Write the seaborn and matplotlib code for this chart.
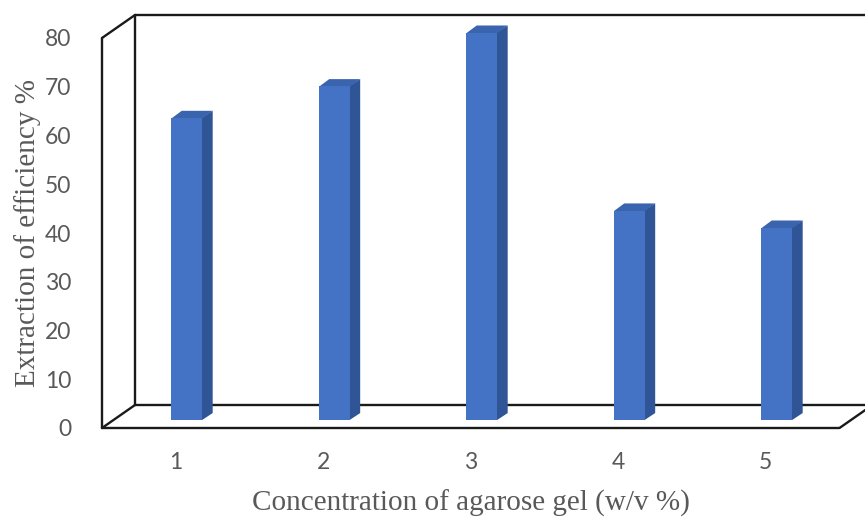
import matplotlib
matplotlib.use("Agg")
import matplotlib.pyplot as plt
from matplotlib.patches import Polygon
import seaborn as sns
import pandas as pd

# --- Data ---
concentration = ["1", "2", "3", "4", "5"]
efficiency = [62, 68.5, 79.5, 43, 39.5]
y_ticks = [0, 10, 20, 30, 40, 50, 60, 70, 80]

front_color = "#4472C4"
side_color = "#2F5597"
top_color = "#3A64AE"
text_gray = "#595959"

df = pd.DataFrame({"Concentration": concentration, "Efficiency": efficiency})

sns.set_style("white")
fig = plt.figure(figsize=(8.65, 5.18), dpi=100)
# front plane of the 3D box
ax = fig.add_axes([102 / 865, 1 - 428 / 518, 737.5 / 865, 390 / 518])

sns.barplot(data=df, x="Concentration", y="Efficiency", color=front_color,
            saturation=1, width=0.21, ax=ax, zorder=3)

ax.set_xlim(-0.5, 4.5)
ax.set_ylim(0, 80)
for s in ax.spines.values():
    s.set_visible(False)

# pixel -> data conversion for the 3D depth effect
ppx = ax.bbox.width / 5.0
ppy = ax.bbox.height / 80.0
ddx = 33 / ppx
ddy = 23 / ppy
f0, f1 = 0.34, 0.65
eps = 0.6 / ppx

# --- box walls ---
line_kw = dict(color="#1a1a1a", lw=1.7, clip_on=False, zorder=1)
x0, x1 = -0.5, 4.5
ax.plot([x0, x0], [0, 80], **line_kw)
ax.plot([x0, x1], [0, 0], **line_kw)
ax.plot([x0 + ddx, x0 + ddx], [ddy, 80 + ddy], **line_kw)
ax.plot([x0 + ddx, x1 + ddx], [80 + ddy, 80 + ddy], **line_kw)
ax.plot([x0 + ddx, x1 + ddx], [ddy, ddy], **line_kw)
ax.plot([x1 + ddx, x1 + ddx], [ddy, 80 + ddy], **line_kw)
ax.plot([x0, x0 + ddx], [0, ddy], **line_kw)
ax.plot([x0, x0 + ddx], [80, 80 + ddy], **line_kw)
ax.plot([x1, x1 + ddx], [0, ddy], **line_kw)

# --- shift bars into the middle of the depth and add side / top faces ---
sx, sy = f0 * ddx, f0 * ddy
bx, by = (f1 - f0) * ddx, (f1 - f0) * ddy
for p in list(ax.patches):
    p.set_x(p.get_x() + sx)
    p.set_y(sy)
    p.set_edgecolor("none")
    p.set_clip_on(False)
    xl = p.get_x()
    xr = xl + p.get_width()
    yb = p.get_y()
    yt = yb + p.get_height()
    side = Polygon([(xr - eps, yb), (xr - eps, yt), (xr + bx, yt + by), (xr + bx, yb + by)],
                   closed=True, facecolor=side_color, edgecolor="none",
                   clip_on=False, zorder=2.9)
    top = Polygon([(xl, yt - 0.1), (xr, yt - 0.1), (xr + bx, yt + by), (xl + bx, yt + by)],
                  closed=True, facecolor=top_color, edgecolor="none",
                  clip_on=False, zorder=2.9)
    ax.add_patch(side)
    ax.add_patch(top)

# --- ticks and labels ---
ax.set_yticks(y_ticks)
ax.set_yticklabels([str(v) for v in y_ticks], fontsize=16.5,
                   family="Lato", color=text_gray)
ax.set_xticks(range(len(concentration)))
ax.set_xticklabels(concentration, fontsize=16.5, family="Lato",
                   color=text_gray)
ax.tick_params(axis="y", length=0, pad=22)
ax.tick_params(axis="x", length=0, pad=17)

ax.set_xlabel("Concentration of agarose gel (w/v %)", fontsize=21,
              family="Liberation Serif", color=text_gray, labelpad=12)
ax.set_ylabel("Extraction of efficiency %", fontsize=21,
              family="Liberation Serif", color=text_gray, labelpad=3)

fig.savefig("out.png", dpi=100)
